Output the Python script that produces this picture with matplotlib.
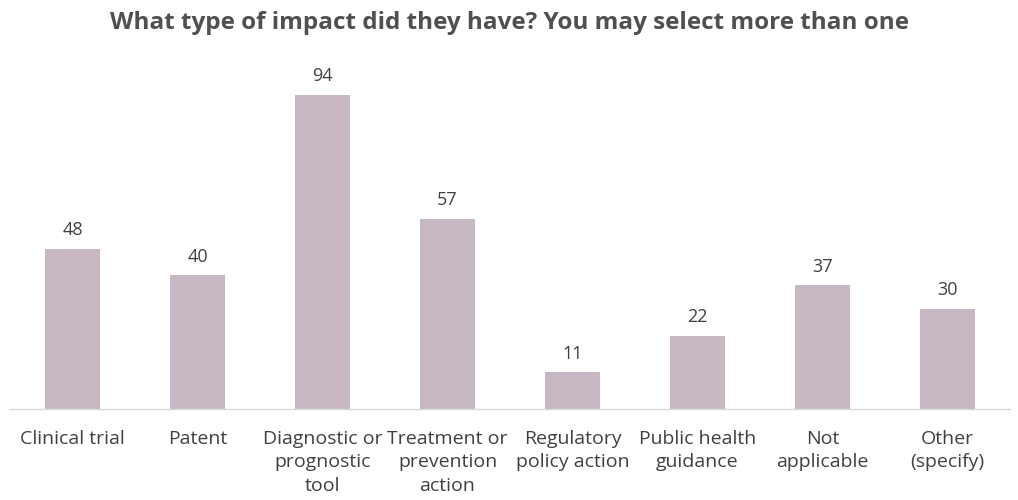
import matplotlib
matplotlib.use("Agg")
import matplotlib.pyplot as plt

CATEGORIES = [
    "Clinical trial",
    "Patent",
    "Diagnostic or\nprognostic\ntool",
    "Treatment or\nprevention\naction",
    "Regulatory\npolicy action",
    "Public health\nguidance",
    "Not\napplicable",
    "Other\n(specify)",
]
COUNTS = [48, 40, 94, 57, 11, 22, 37, 30]

BAR_COLOR = "#C8B8C4"
TEXT_COLOR = "#404040"


def main():
    plt.rcParams["font.family"] = ["Open Sans", "DejaVu Sans"]
    fig = plt.figure(figsize=(10.18, 5.0), dpi=100)
    ax = fig.add_axes([10 / 1018, 91 / 500, 1000 / 1018, 334 / 500])

    xs = range(len(CATEGORIES))
    bars = ax.bar(xs, COUNTS, width=0.44, color=BAR_COLOR)
    for rect, val in zip(bars, COUNTS):
        ax.annotate(
            str(val),
            (rect.get_x() + rect.get_width() / 2, rect.get_height()),
            xytext=(0, 7),
            textcoords="offset points",
            ha="center",
            va="bottom",
            fontsize=13,
            color=TEXT_COLOR,
        )

    ax.set_xlim(-0.5, len(CATEGORIES) - 0.5)
    ax.set_ylim(0, 100)
    ax.set_xticks(list(xs))
    ax.set_xticklabels(CATEGORIES, fontsize=14, color=TEXT_COLOR, linespacing=1.4)
    ax.tick_params(axis="x", length=0, pad=15)
    ax.set_yticks([])
    for side in ["top", "right", "left"]:
        ax.spines[side].set_visible(False)
    ax.spines["bottom"].set_color("#D9D9D9")
    ax.spines["bottom"].set_linewidth(1.0)

    fig.text(
        0.5,
        1 - 23 / 500,
        "What type of impact did they have? You may select more than one",
        ha="center",
        va="center",
        fontsize=17.5,
        fontweight="bold",
        color="#505050",
    )

    fig.savefig("out.png", dpi=100)


if __name__ == "__main__":
    main()
